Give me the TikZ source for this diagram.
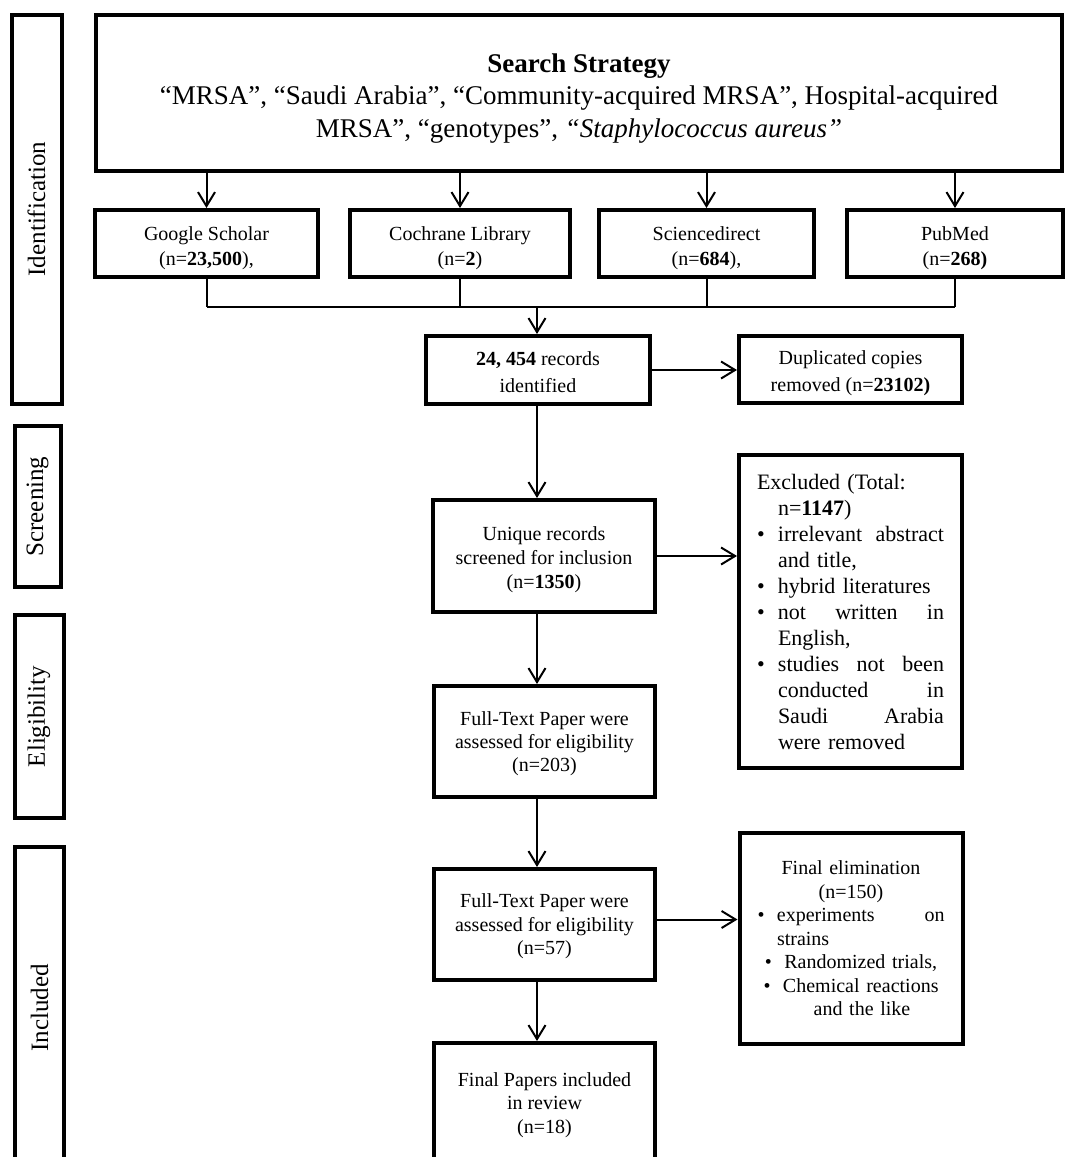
\documentclass[tikz,border=0pt]{standalone}
\usepackage{fontspec}
\setmainfont{Liberation Serif}
\usetikzlibrary{arrows.meta}

% bullet lines of the side boxes
\newcommand{\exitem}[1]{\makebox[21pt][l]{\textbullet}#1}
\newcommand{\exline}[1]{\hspace*{21pt}#1}
\newcommand{\exfill}[2][166pt]{\makebox[#1][l]{#2}}
\newcommand{\fibul}{\makebox[19.5pt][l]{\textbullet}}

\begin{document}
\begin{tikzpicture}[x=1pt, y=-1pt,
  frame/.style={draw, line width=4pt, inner sep=0pt},
  box/.style={frame, align=center, text depth=0pt, font=\fontsize{20}{25}\selectfont},
  side/.style={frame, text width=187pt, minimum width=223pt},
  phase/.style={frame, rotate=90, font=\fontsize{25}{30}\selectfont},
  link/.style={line width=2pt},
  arr/.style={link, -{Straight Barb[length=14pt, width=17pt]}}]
  \useasboundingbox (0,0) rectangle (1067,1157);

  % phases
  \node[phase, minimum width=389pt, minimum height=50pt] (ident) at (36.5,209) {Identification};
  \node[phase, minimum width=161pt, minimum height=46pt] (screen) at (37.5,506.5) {Screening};
  \node[phase, minimum width=203pt, minimum height=49pt] (elig) at (39,716.5) {Eligibility};
  \node[phase, minimum width=322pt, minimum height=49pt] (incl) at (39.5,1008) {Included};

  % search strategy
  \node[box, minimum width=966pt, minimum height=156pt, font=\fontsize{27}{32.5}\selectfont]
    (search) at (579,93) {\rule{0pt}{23pt}\textbf{Search Strategy}\\
    “MRSA”, “Saudi Arabia”, “Community-acquired MRSA”, Hospital-acquired\\
    MRSA”, “genotypes”, \textit{“Staphylococcus aureus”}};

  % databases
  \node[box, minimum width=223pt, minimum height=67pt] (google) at (206.5,243.5) {\rule{0pt}{19pt}Google Scholar\\(n=\textbf{23,500}),};
  \node[box, minimum width=220pt, minimum height=67pt] (cochrane) at (460,243.5) {\rule{0pt}{19pt}Cochrane Library\\(n=\textbf{2})};
  \node[box, minimum width=215pt, minimum height=67pt] (science) at (706.5,243.5) {\rule{0pt}{19pt}Sciencedirect\\(n=\textbf{684}),};
  \node[box, minimum width=216pt, minimum height=67pt] (pubmed) at (955,243.5) {\rule{0pt}{19pt}PubMed\\(n=\textbf{268)}};

  % records
  \node[box, minimum width=224pt, minimum height=68pt, font=\fontsize{20}{27}\selectfont]
    (records) at (538,370) {\rule{0pt}{17pt}\textbf{24, 454} records\\identified};
  \node[box, minimum width=223pt, minimum height=67pt, font=\fontsize{20}{27}\selectfont]
    (dup) at (850.5,369.5) {\rule{0pt}{17pt}Duplicated copies\\removed (n=\textbf{23102)}};

  % screening
  \node[box, minimum width=222pt, minimum height=112pt, font=\fontsize{20}{24}\selectfont]
    (unique) at (544,556) {\rule{0pt}{17pt}Unique records\\screened for inclusion\\(n=\textbf{1350})};
  \node[side, minimum height=313pt, align=left, font=\fontsize{22}{26}\selectfont]
    (excl) at (850.5,611.5) {Excluded (Total:\\
    \exline{n=\textbf{1147})}\\
    \exitem{\exfill{irrelevant\hfill abstract}}\\
    \exline{and title,}\\
    \exitem{hybrid literatures}\\
    \exitem{\exfill{not\hfill written\hfill in}}\\
    \exline{English,}\\
    \exitem{\exfill{studies\hfill not\hfill been}}\\
    \exline{\exfill{conducted\hfill in}}\\
    \exline{\exfill{Saudi\hfill Arabia}}\\
    \exline{were removed}};

  % eligibility
  \node[box, minimum width=221pt, minimum height=111pt, font=\fontsize{20}{23}\selectfont]
    (full1) at (544.5,741.5) {Full-Text Paper were\\assessed for eligibility\\(n=203)};
  \node[box, minimum width=221pt, minimum height=111pt, font=\fontsize{20}{23.5}\selectfont]
    (full2) at (544.5,924.5) {Full-Text Paper were\\assessed for eligibility\\(n=57)};
  \node[side, minimum height=211pt, align=center, font=\fontsize{20}{23.5}\selectfont]
    (final) at (851,938.5) {Final elimination\\(n=150)\\
    \fibul\makebox[167.5pt][l]{experiments\hfill on}\\
    \makebox[187pt][l]{\hspace*{19.5pt}strains}\\
    \fibul Randomized trials,\\
    \fibul Chemical reactions\\
    \hspace*{22pt}and the like};

  % included
  \node[box, minimum width=221pt, minimum height=120pt, font=\fontsize{20}{23.5}\selectfont]
    (papers) at (544.5,1103) {Final Papers included\\in review\\(n=18)};

  % search to databases
  \foreach \db in {google, cochrane, science, pubmed}
    \draw[arr] (search.south -| \db) -- (\db.north);

  % databases merged
  \coordinate (join) at (537,307);
  \foreach \db in {google, cochrane, science, pubmed}
    \draw[link] (\db.south) -- (\db.south |- join);
  \draw[link] (google.south |- join) -- (pubmed.south |- join);
  \draw[arr] (join) -- (join |- records.north);

  % main flow
  \draw[arr] (records.east) -- (records.east -| dup.west);
  \draw[arr] (join |- records.south) -- (join |- unique.north);
  \draw[arr] (unique.east) -- (unique.east -| excl.west);
  \draw[arr] (join |- unique.south) -- (join |- full1.north);
  \draw[arr] (join |- full1.south) -- (join |- full2.north);
  \draw[arr] ([yshift=5pt]full2.east) -- ([yshift=5pt]full2.east -| final.west);
  \draw[arr] (join |- full2.south) -- (join |- papers.north);
\end{tikzpicture}
\end{document}
